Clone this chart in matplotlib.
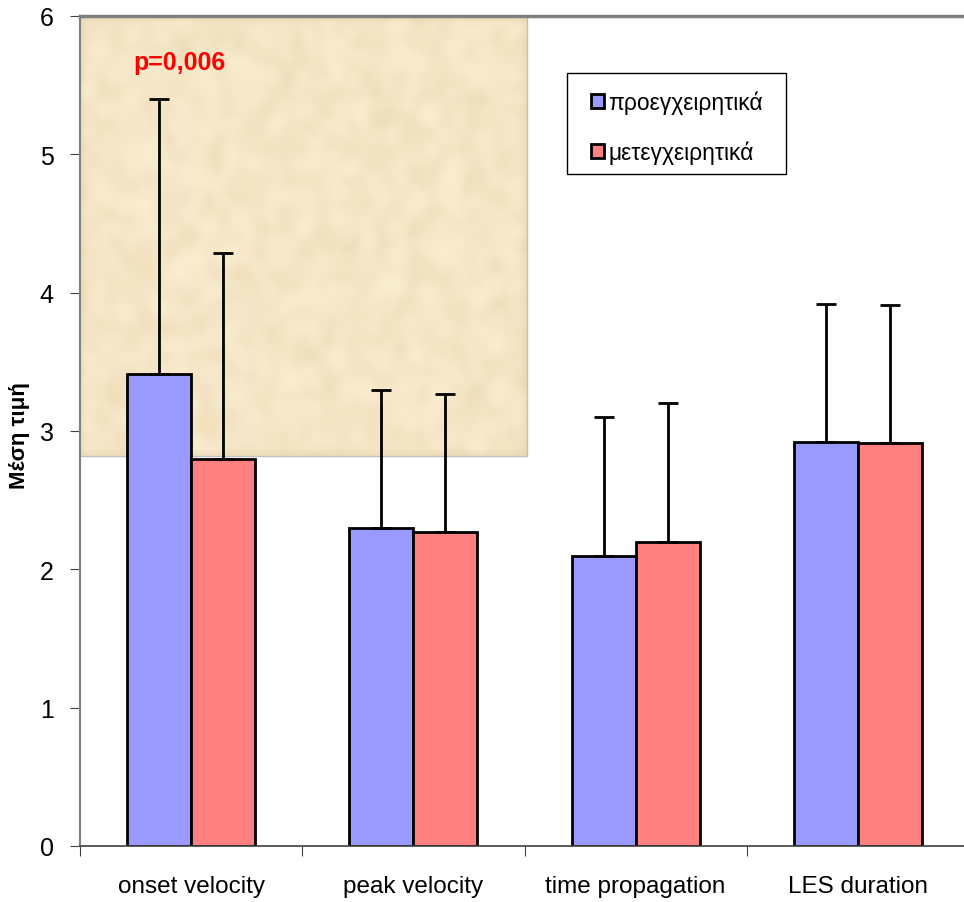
import matplotlib
matplotlib.use("Agg")
import matplotlib.pyplot as plt
from matplotlib.patches import Rectangle
import numpy as np

plt.rcParams['font.family'] = ['Liberation Sans', 'DejaVu Sans']

categories = ['onset velocity', 'peak velocity', 'time propagation', 'LES duration']
pre_vals = [3.41, 2.30, 2.10, 2.92]
post_vals = [2.80, 2.27, 2.20, 2.91]
pre_err = [1.99, 1.00, 1.00, 1.00]
post_err = [1.49, 1.00, 1.00, 1.00]
series_names = ['προεγχειρητικά', 'μετεγχειρητικά']
yticks = [0, 1, 2, 3, 4, 5, 6]

fig = plt.figure(figsize=(9.64, 9.03), dpi=100)
ax = fig.add_axes([80 / 964, 56 / 903, 889 / 964, 830 / 903])

# parchment-like patch in the upper left (decoration only)
rng = np.random.default_rng(3)
noise = rng.random((90, 100))
k = np.ones(3) / 3
for _ in range(2):
    noise = np.apply_along_axis(lambda r: np.convolve(r, k, mode='same'), 1, noise)
    noise = np.apply_along_axis(lambda c: np.convolve(c, k, mode='same'), 0, noise)
noise = (noise - noise.min()) / (noise.max() - noise.min())
base = np.array([0.95, 0.89, 0.76])
tex = base[None, None, :] + (noise[..., None] - 0.5) * np.array([0.07, 0.09, 0.12])
tex = np.clip(tex, 0, 1)
ax.imshow(tex, extent=(-0.5, 1.51, 2.82, 6.0), aspect='auto', zorder=0,
          interpolation='bilinear')
ax.plot([-0.5, 1.51, 1.51], [2.82, 2.82, 6.0], color='#c0c0c0', lw=1, zorder=0.5)

x = np.arange(len(categories))
w = 0.288
err_kw = dict(ecolor='black', elinewidth=2, capsize=7, capthick=2)
ax.bar(x - w / 2, pre_vals, w, color='#9999ff', edgecolor='black', linewidth=2,
       yerr=[np.zeros(4), pre_err], error_kw=err_kw, label=series_names[0], zorder=2)
ax.bar(x + w / 2, post_vals, w, color='#ff8080', edgecolor='black', linewidth=2,
       yerr=[np.zeros(4), post_err], error_kw=err_kw, label=series_names[1], zorder=2)

ax.set_xlim(-0.5, 3.5)
ax.set_ylim(0, 6)
ax.set_yticks(yticks)
ax.set_yticklabels([str(t) for t in yticks], fontsize=18)
ax.set_xticks(np.arange(-0.5, 3.5, 1.0))
ax.set_xticklabels([])
ax.set_xticks(x, minor=True)
ax.set_xticklabels(categories, minor=True, fontsize=17.5)
ax.tick_params(axis='x', which='minor', length=0, pad=21)
ax.tick_params(axis='x', which='major', length=7, color='#404040', direction='out')
ax.tick_params(axis='y', length=7, color='#404040', direction='out', pad=12)

ax.spines['right'].set_visible(False)
ax.spines['top'].set_color('#808080')
ax.spines['top'].set_linewidth(2.5)
ax.spines['left'].set_color('#808080')
ax.spines['left'].set_linewidth(1.5)
ax.spines['bottom'].set_color('#404040')
ax.spines['bottom'].set_linewidth(1.2)

ax.set_ylabel('Μέση τιμή', fontsize=16, fontweight='bold')
ax.yaxis.set_label_coords(-0.056, 0.496)

ax.text(-0.26, 5.67, 'p=0,006', color='red', fontsize=18, fontweight='bold',
        ha='left', va='center')

# legend box drawn separately so its width matches the original
ax.add_patch(Rectangle((0.5478, 0.8096), 0.2463, 0.1217, transform=ax.transAxes,
                       facecolor='white', edgecolor='black', lw=1, zorder=3))
leg = ax.legend(loc='upper left', bbox_to_anchor=(0.558, 0.9277), fontsize=16.5,
                frameon=False, handlelength=0.55, handleheight=0.55,
                handletextpad=0.2, labelspacing=1.15, borderpad=0.65,
                borderaxespad=0)
leg.set_zorder(4)
for h in leg.legend_handles:
    h.set_linewidth(2)

fig.savefig('out.png', dpi=100)
